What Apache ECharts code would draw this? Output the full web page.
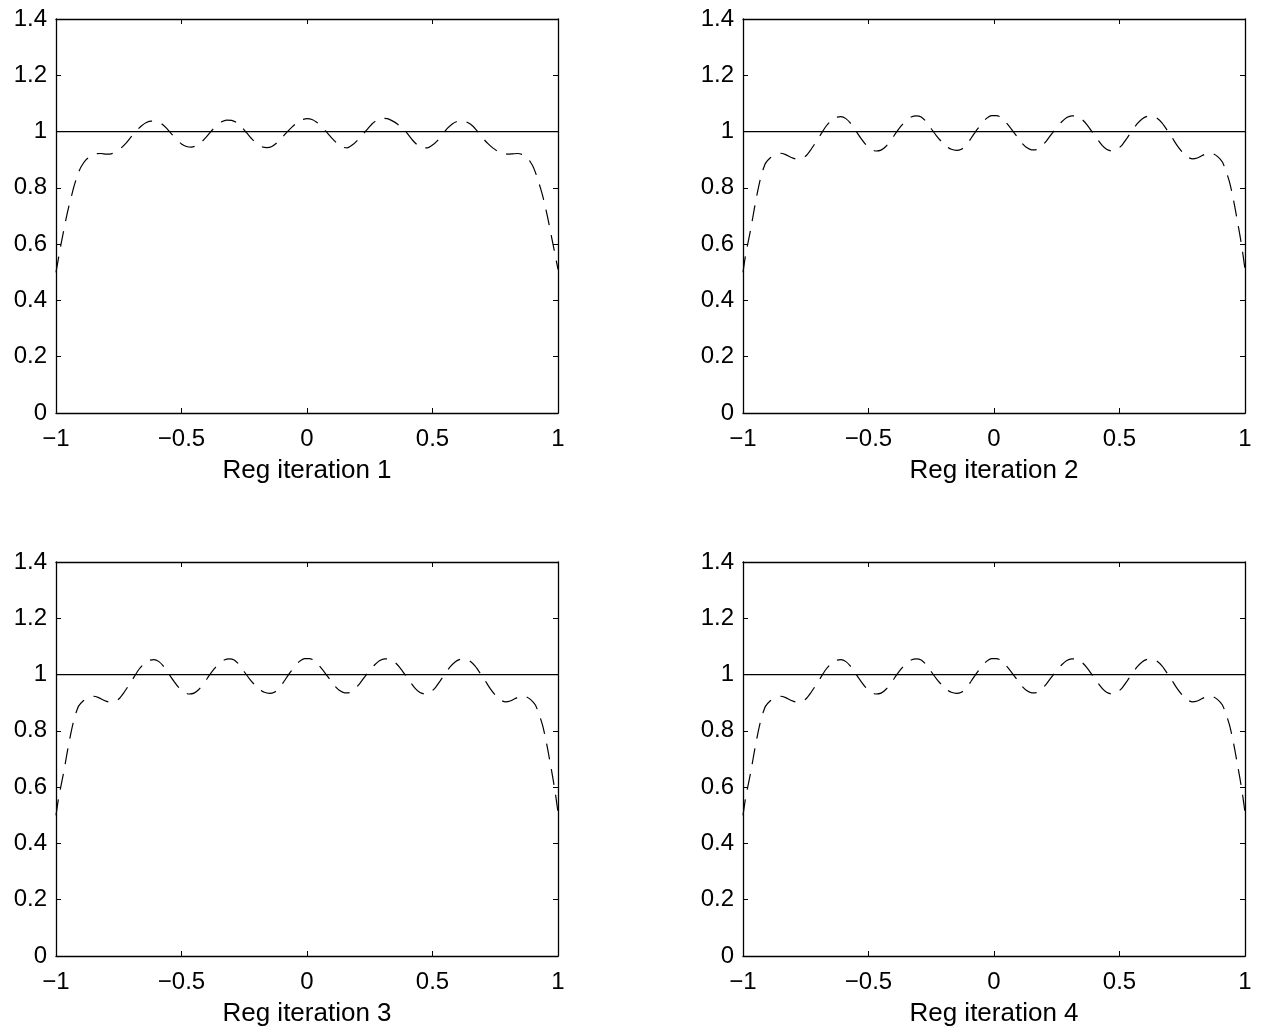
<!DOCTYPE html>
<html>
<head>
<meta charset="utf-8">
<script src="https://cdn.jsdelivr.net/npm/echarts@6/dist/echarts.min.js"></script>
<style>
html,body{margin:0;padding:0;background:#fff;}
#chart{width:1265px;height:1031px;}
</style>
</head>
<body>
<div id="chart"></div>
<script>
// ---- data ----
const panelLabels = ['Reg iteration 1', 'Reg iteration 2', 'Reg iteration 3', 'Reg iteration 4'];
const xTicks = [-1, -0.5, 0, 0.5, 1];
const yTicks = [0, 0.2, 0.4, 0.6, 0.8, 1, 1.2, 1.4];
const referenceLevel = [[-1, 1], [1, 1]];

const curve1 = [
[-1,0.50],[-0.99,0.55],[-0.98,0.60],[-0.97,0.645],[-0.96,0.69],[-0.95,0.73],[-0.94,0.765],[-0.93,0.80],[-0.92,0.83],[-0.91,0.855],
[-0.90,0.875],[-0.88,0.90],[-0.86,0.914],[-0.84,0.921],[-0.82,0.922],[-0.80,0.920],[-0.78,0.921],[-0.76,0.928],[-0.74,0.942],[-0.72,0.96],
[-0.70,0.982],[-0.68,1.003],[-0.66,1.02],[-0.64,1.032],[-0.62,1.037],[-0.60,1.036],[-0.58,1.028],[-0.56,1.012],[-0.54,0.992],[-0.52,0.972],
[-0.50,0.956],[-0.48,0.947],[-0.46,0.945],[-0.44,0.95],[-0.42,0.963],[-0.40,0.982],[-0.38,1.003],[-0.36,1.022],[-0.34,1.035],[-0.32,1.041],
[-0.30,1.04],[-0.28,1.032],[-0.26,1.016],[-0.24,0.995],[-0.22,0.974],[-0.20,0.957],[-0.18,0.946],[-0.16,0.943],[-0.14,0.947],[-0.12,0.96],
[-0.10,0.978],[-0.08,0.998],[-0.06,1.016],[-0.04,1.031],[-0.02,1.042],[0.00,1.046],[0.02,1.043],[0.04,1.032],[0.06,1.016],[0.08,0.996],
[0.10,0.976],[0.12,0.958],[0.14,0.945],[0.16,0.942],[0.18,0.952],[0.20,0.968],[0.22,0.988],[0.24,1.008],[0.26,1.028],[0.28,1.041],
[0.30,1.047],[0.32,1.046],[0.34,1.038],[0.36,1.027],[0.38,1.012],[0.40,0.993],[0.42,0.97],[0.44,0.952],[0.46,0.942],[0.48,0.942],
[0.50,0.952],[0.52,0.968],[0.54,0.99],[0.56,1.012],[0.58,1.028],[0.60,1.037],[0.62,1.038],[0.64,1.032],[0.66,1.02],[0.68,1.0],
[0.70,0.977],[0.72,0.958],[0.74,0.942],[0.76,0.93],[0.78,0.923],[0.80,0.92],[0.82,0.921],[0.84,0.922],[0.86,0.918],[0.88,0.905],
[0.90,0.877],[0.91,0.855],[0.92,0.828],[0.93,0.80],[0.94,0.768],[0.95,0.73],[0.96,0.69],[0.97,0.645],[0.98,0.60],[0.99,0.555],[1.00,0.51]
];

const curve2 = [
[-1,0.50],[-0.99,0.56],[-0.98,0.605],[-0.97,0.65],[-0.96,0.70],[-0.95,0.75],[-0.94,0.795],[-0.93,0.835],[-0.92,0.865],[-0.91,0.888],
[-0.89,0.908],[-0.87,0.92],[-0.85,0.923],[-0.83,0.918],[-0.81,0.909],[-0.79,0.903],[-0.77,0.903],[-0.75,0.913],[-0.73,0.935],[-0.71,0.962],
[-0.69,0.99],[-0.67,1.018],[-0.65,1.038],[-0.63,1.05],[-0.61,1.053],[-0.59,1.046],[-0.57,1.028],[-0.55,1.002],[-0.53,0.976],[-0.51,0.953],
[-0.49,0.937],[-0.47,0.931],[-0.45,0.934],[-0.43,0.948],[-0.41,0.97],[-0.39,0.996],[-0.37,1.02],[-0.35,1.04],[-0.33,1.052],[-0.31,1.056],
[-0.29,1.052],[-0.27,1.035],[-0.25,1.01],[-0.23,0.986],[-0.21,0.965],[-0.19,0.947],[-0.17,0.937],[-0.15,0.933],[-0.13,0.937],[-0.11,0.952],
[-0.09,0.978],[-0.07,1.004],[-0.05,1.028],[-0.03,1.047],[-0.01,1.057],[0.01,1.057],[0.03,1.05],[0.05,1.03],[0.07,1.008],[0.09,0.984],
[0.11,0.96],[0.13,0.943],[0.15,0.935],[0.17,0.936],[0.19,0.948],[0.21,0.968],[0.23,0.992],[0.25,1.015],[0.27,1.035],[0.29,1.05],
[0.31,1.056],[0.33,1.054],[0.35,1.044],[0.37,1.025],[0.39,1.0],[0.41,0.975],[0.43,0.952],[0.45,0.936],[0.47,0.931],[0.49,0.936],
[0.51,0.952],[0.53,0.977],[0.55,1.003],[0.57,1.027],[0.59,1.045],[0.61,1.054],[0.63,1.055],[0.65,1.047],[0.67,1.03],[0.69,1.005],
[0.71,0.978],[0.73,0.95],[0.75,0.927],[0.77,0.91],[0.79,0.903],[0.81,0.906],[0.83,0.915],[0.85,0.922],[0.87,0.922],[0.89,0.912],
[0.91,0.892],[0.92,0.87],[0.93,0.845],[0.94,0.815],[0.95,0.775],[0.96,0.73],[0.97,0.68],[0.98,0.63],[0.99,0.575],[1.00,0.51]
];

const curve3 = [
[-1,0.50],[-0.99,0.56],[-0.98,0.605],[-0.97,0.65],[-0.96,0.70],[-0.95,0.75],[-0.94,0.795],[-0.93,0.835],[-0.92,0.865],[-0.91,0.888],
[-0.89,0.908],[-0.87,0.92],[-0.85,0.923],[-0.83,0.918],[-0.81,0.909],[-0.79,0.903],[-0.77,0.903],[-0.75,0.913],[-0.73,0.935],[-0.71,0.962],
[-0.69,0.99],[-0.67,1.018],[-0.65,1.038],[-0.63,1.05],[-0.61,1.053],[-0.59,1.046],[-0.57,1.028],[-0.55,1.002],[-0.53,0.976],[-0.51,0.953],
[-0.49,0.937],[-0.47,0.931],[-0.45,0.934],[-0.43,0.948],[-0.41,0.97],[-0.39,0.996],[-0.37,1.02],[-0.35,1.04],[-0.33,1.052],[-0.31,1.056],
[-0.29,1.052],[-0.27,1.035],[-0.25,1.01],[-0.23,0.986],[-0.21,0.965],[-0.19,0.947],[-0.17,0.937],[-0.15,0.933],[-0.13,0.937],[-0.11,0.952],
[-0.09,0.978],[-0.07,1.004],[-0.05,1.028],[-0.03,1.047],[-0.01,1.057],[0.01,1.057],[0.03,1.05],[0.05,1.03],[0.07,1.008],[0.09,0.984],
[0.11,0.96],[0.13,0.943],[0.15,0.935],[0.17,0.936],[0.19,0.948],[0.21,0.968],[0.23,0.992],[0.25,1.015],[0.27,1.035],[0.29,1.05],
[0.31,1.056],[0.33,1.054],[0.35,1.044],[0.37,1.025],[0.39,1.0],[0.41,0.975],[0.43,0.952],[0.45,0.936],[0.47,0.931],[0.49,0.936],
[0.51,0.952],[0.53,0.977],[0.55,1.003],[0.57,1.027],[0.59,1.045],[0.61,1.054],[0.63,1.055],[0.65,1.047],[0.67,1.03],[0.69,1.005],
[0.71,0.978],[0.73,0.95],[0.75,0.927],[0.77,0.91],[0.79,0.903],[0.81,0.906],[0.83,0.915],[0.85,0.922],[0.87,0.922],[0.89,0.912],
[0.91,0.892],[0.92,0.87],[0.93,0.845],[0.94,0.815],[0.95,0.775],[0.96,0.73],[0.97,0.68],[0.98,0.63],[0.99,0.575],[1.00,0.51]
];

const curve4 = [
[-1,0.50],[-0.99,0.56],[-0.98,0.605],[-0.97,0.65],[-0.96,0.70],[-0.95,0.75],[-0.94,0.795],[-0.93,0.835],[-0.92,0.865],[-0.91,0.888],
[-0.89,0.908],[-0.87,0.92],[-0.85,0.923],[-0.83,0.918],[-0.81,0.909],[-0.79,0.903],[-0.77,0.903],[-0.75,0.913],[-0.73,0.935],[-0.71,0.962],
[-0.69,0.99],[-0.67,1.018],[-0.65,1.038],[-0.63,1.05],[-0.61,1.053],[-0.59,1.046],[-0.57,1.028],[-0.55,1.002],[-0.53,0.976],[-0.51,0.953],
[-0.49,0.937],[-0.47,0.931],[-0.45,0.934],[-0.43,0.948],[-0.41,0.97],[-0.39,0.996],[-0.37,1.02],[-0.35,1.04],[-0.33,1.052],[-0.31,1.056],
[-0.29,1.052],[-0.27,1.035],[-0.25,1.01],[-0.23,0.986],[-0.21,0.965],[-0.19,0.947],[-0.17,0.937],[-0.15,0.933],[-0.13,0.937],[-0.11,0.952],
[-0.09,0.978],[-0.07,1.004],[-0.05,1.028],[-0.03,1.047],[-0.01,1.057],[0.01,1.057],[0.03,1.05],[0.05,1.03],[0.07,1.008],[0.09,0.984],
[0.11,0.96],[0.13,0.943],[0.15,0.935],[0.17,0.936],[0.19,0.948],[0.21,0.968],[0.23,0.992],[0.25,1.015],[0.27,1.035],[0.29,1.05],
[0.31,1.056],[0.33,1.054],[0.35,1.044],[0.37,1.025],[0.39,1.0],[0.41,0.975],[0.43,0.952],[0.45,0.936],[0.47,0.931],[0.49,0.936],
[0.51,0.952],[0.53,0.977],[0.55,1.003],[0.57,1.027],[0.59,1.045],[0.61,1.054],[0.63,1.055],[0.65,1.047],[0.67,1.03],[0.69,1.005],
[0.71,0.978],[0.73,0.95],[0.75,0.927],[0.77,0.91],[0.79,0.903],[0.81,0.906],[0.83,0.915],[0.85,0.922],[0.87,0.922],[0.89,0.912],
[0.91,0.892],[0.92,0.87],[0.93,0.845],[0.94,0.815],[0.95,0.775],[0.96,0.73],[0.97,0.68],[0.98,0.63],[0.99,0.575],[1.00,0.51]
];

const curves = [curve1, curve2, curve3, curve4];

// ---- layout ----
const FONT = '"Liberation Sans", Arial, Helvetica, sans-serif';
const gridPos = [
  {left: 56, top: 19}, {left: 743, top: 19},
  {left: 56, top: 562}, {left: 743, top: 562}
];
const PW = 502, PH = 394;

function fmt(v) {
  const s = String(+(+v).toFixed(2));
  return s.replace('-', '\u2212');
}

const axisLine = {show: true, onZero: false, lineStyle: {color: '#000', width: 1.3}};
const axisTick = {show: true, inside: true, length: 5, lineStyle: {color: '#000', width: 1}};

const grid = [], xAxis = [], yAxis = [], series = [];
gridPos.forEach((g, i) => {
  grid.push({left: g.left, top: g.top, width: PW, height: PH, containLabel: false, show: false});
  const xBase = {type: 'value', gridIndex: i, min: xTicks[0], max: xTicks[xTicks.length - 1], interval: 0.5,
    splitLine: {show: false}, axisLine, axisTick};
  const yBase = {type: 'value', gridIndex: i, min: yTicks[0], max: yTicks[yTicks.length - 1], interval: 0.2,
    splitLine: {show: false}, axisLine, axisTick};
  xAxis.push(Object.assign({}, xBase, {
    position: 'bottom',
    axisLabel: {show: true, formatter: fmt, color: '#000', fontSize: 24, fontFamily: FONT, margin: 14,
      showMinLabel: true, showMaxLabel: true},
    name: panelLabels[i], nameLocation: 'middle', nameGap: 45,
    nameTextStyle: {color: '#000', fontSize: 26, fontFamily: FONT}
  }));
  xAxis.push(Object.assign({}, xBase, {position: 'top', axisLabel: {show: false}}));
  yAxis.push(Object.assign({}, yBase, {
    position: 'left',
    axisLabel: {show: true, formatter: fmt, color: '#000', fontSize: 24, fontFamily: FONT, margin: 9,
      showMinLabel: true, showMaxLabel: true}
  }));
  yAxis.push(Object.assign({}, yBase, {position: 'right', axisLabel: {show: false}}));

  series.push({
    type: 'line', xAxisIndex: 2 * i, yAxisIndex: 2 * i, data: referenceLevel,
    symbol: 'none', silent: true, lineStyle: {color: '#000', width: 1.3, type: 'solid'}
  });
  series.push({
    type: 'line', xAxisIndex: 2 * i, yAxisIndex: 2 * i, data: curves[i],
    symbol: 'none', silent: true, smooth: 0.2, lineStyle: {color: '#000', width: 1.2, type: [16, 10]}
  });
});

const chart = echarts.init(document.getElementById('chart'), null, {renderer: 'canvas'});
chart.setOption({
  backgroundColor: '#fff',
  animation: false,
  grid, xAxis, yAxis, series
});
</script>
</body>
</html>
